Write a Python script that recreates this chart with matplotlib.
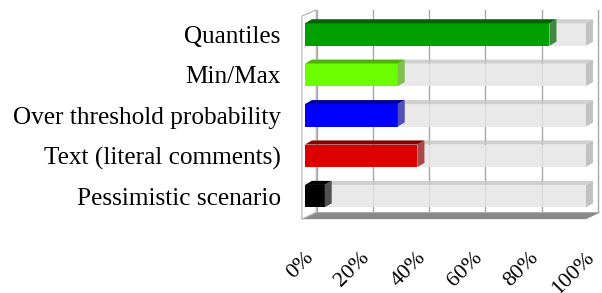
import matplotlib.pyplot as plt
from matplotlib.patches import Polygon
from matplotlib.transforms import offset_copy

# data
categories = ["Quantiles", "Min/Max", "Over threshold probability",
              "Text (literal comments)", "Pessimistic scenario"]
shares = [87, 33, 33, 40, 7]
tick_values = [0, 20, 40, 60, 80, 100]
tick_labels = ["0%", "20%", "40%", "60%", "80%", "100%"]

front_colors = ["#00a000", "#6cff00", "#0000ff", "#dd0000", "#000000"]
top_colors = ["#006400", "#4cb400", "#0000a0", "#8c0000", "#000000"]
side_colors = ["#3f883f", "#80c050", "#5050b8", "#a84848", "#505050"]

plt.rcParams['font.family'] = ['Liberation Serif', 'DejaVu Serif']

fig = plt.figure(figsize=(6.02, 2.93), dpi=100)
ax = fig.add_axes([300 / 602, 71 / 293, 302 / 602, 217 / 293])
ax.set_xlim(-1.78, 105.7)
ax.set_ylim(4.64, -0.73)

h = 0.555          # bar thickness
dx, dy = 2.5, -0.1  # bar depth
wx, wy = 4.2, -0.17  # wall depth
top_y = -0.607
floor_y = 4.57

# floor
ax.add_patch(Polygon([(-1.1, floor_y), (100, floor_y), (100 + wx + 1, floor_y + wy),
                      (wx, floor_y + wy)], closed=True, fc="#8a8a8a", ec="none",
                     clip_on=False, zorder=1))
# left wall
ax.add_patch(Polygon([(-1.1, floor_y), (-1.1, top_y + 0.15), (wx - 0.2, top_y),
                      (wx - 0.2, floor_y + wy)], closed=True, fc="white", ec="#b0b0b0",
                     lw=0.8, clip_on=False, zorder=1))
# back wall gridlines
for v in tick_values:
    ax.plot([v + wx, v + wx], [top_y, floor_y + wy], color="#a8a8a8", lw=1.0, zorder=1)


def draw_bar(i, length, front, top, side, alpha=1.0, z=2):
    y0 = i - h / 2
    y1 = i + h / 2
    ax.barh(i, length, height=h, left=0, color=front, alpha=alpha, zorder=z)
    ax.add_patch(Polygon([(0, y0), (length, y0), (length + dx, y0 + dy), (dx, y0 + dy)],
                         closed=True, fc=top, ec="none", alpha=alpha, zorder=z))
    ax.add_patch(Polygon([(length, y0), (length + dx, y0 + dy), (length + dx, y1 + dy),
                          (length, y1)], closed=True, fc=side, ec="none", alpha=alpha, zorder=z))


for i, v in enumerate(shares):
    draw_bar(i, 100, "#e6e6e6", "#c8c8c8", "#b8b8b8", alpha=0.85, z=2)
    draw_bar(i, v, front_colors[i], top_colors[i], side_colors[i], z=3)

ax.set_yticks(range(len(categories)))
ax.set_yticklabels(categories, fontsize=18.2)
ax.tick_params(axis="y", length=0, pad=14)

# rotated percent labels below the floor
ax.set_xticks([])
lab_tr = offset_copy(ax.get_xaxis_transform(), fig=fig, x=-1, y=-26, units="dots")
for v, lab in zip(tick_values, tick_labels):
    ax.text(v, 0, lab, transform=lab_tr, fontsize=16, rotation=45, ha="right",
            va="top", rotation_mode="anchor", clip_on=False)

for s in ax.spines.values():
    s.set_visible(False)

fig.savefig("out.png", dpi=100)
